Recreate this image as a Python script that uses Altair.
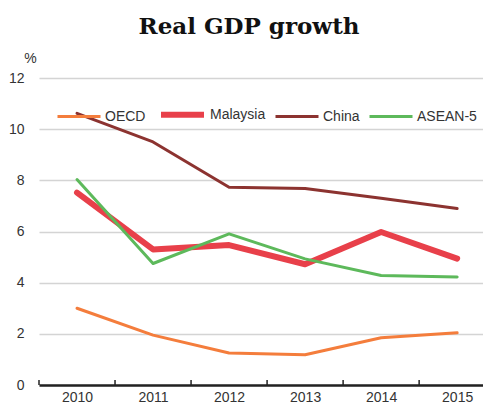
import altair as alt
import pandas as pd

years = [2010, 2011, 2012, 2013, 2014, 2015]
series = ["OECD", "Malaysia", "China", "ASEAN-5"]
oecd = [3.0, 1.95, 1.25, 1.18, 1.85, 2.04]
malaysia = [7.52, 5.3, 5.47, 4.72, 5.98, 4.94]
china = [10.62, 9.5, 7.73, 7.68, 7.3, 6.9]
asean5 = [8.03, 4.75, 5.91, 4.93, 4.28, 4.22]
colors = ["#F47D3C", "#E8404A", "#8C3330", "#5DB95B"]
widths = [3, 6, 3, 3]
tick_pos = [2009.5, 2010.5, 2011.5, 2012.5, 2013.5, 2014.5]

rows = []
for name, vals in zip(series, [oecd, malaysia, china, asean5]):
    for y, v in zip(years, vals):
        rows.append({"year": y, "series": name, "value": v, "order": series.index(name)})
df = pd.DataFrame(rows)
ticks = pd.DataFrame({"x": tick_pos, "y0": [0] * len(tick_pos), "y1": [0.2] * len(tick_pos)})

xscale = alt.Scale(domain=[2009.5, 2015.34], nice=False, zero=False)
yscale = alt.Scale(domain=[0, 12], nice=False)

legend_cfg = dict(title=None, orient="none", legendX=17, legendY=12,
                  direction="horizontal", symbolType="stroke", gridAlign="each",
                  symbolSize=1849, labelFontSize=14, labelColor="#333333",
                  labelFont="Liberation Sans", columnPadding=3, labelOffset=3)

lines = alt.Chart(df).mark_line(strokeCap="round", strokeJoin="round").encode(
    x=alt.X("year:Q", scale=xscale,
            axis=alt.Axis(values=years, format="d", title=None, grid=False, ticks=False,
                          domainColor="#222222", domainWidth=2.5, labelPadding=5,
                          labelFontSize=14, labelColor="#333333", labelFont="Liberation Sans")),
    y=alt.Y("value:Q", scale=yscale,
            axis=alt.Axis(values=[0, 2, 4, 6, 8, 10, 12], title="%", titleAngle=0,
                          titleAlign="center", titleBaseline="middle", titleX=-9, titleY=-20,
                          titleFontWeight="normal",
                          titleFontSize=14, titleColor="#333333", titleFont="Liberation Sans",
                          domain=False, ticks=False, labelPadding=15, labelFontSize=14,
                          labelColor="#333333", labelFont="Liberation Sans",
                          gridColor="#d4d4d4", gridWidth=1.5)),
    color=alt.Color("series:N", scale=alt.Scale(domain=series, range=colors),
                    legend=alt.Legend(**legend_cfg)),
    strokeWidth=alt.StrokeWidth("series:N",
                                scale=alt.Scale(type="ordinal", domain=series, range=widths),
                                legend=alt.Legend(**legend_cfg)),
    detail="series:N",
    order="order:Q",
)

tick_marks = alt.Chart(ticks).mark_rule(color="#222222", strokeWidth=1.5).encode(
    x=alt.X("x:Q", scale=xscale),
    y=alt.Y("y0:Q", scale=yscale),
    y2="y1:Q",
)

chart = alt.layer(lines, tick_marks).properties(
    width=444, height=307,
    padding={"left": 0, "top": 8, "right": 0, "bottom": 0},
    title=alt.Title("Real GDP growth", font="DejaVu Serif", fontSize=23, fontWeight="bold",
                    color="#111111", anchor="middle", offset=12, dx=-12),
).configure_view(stroke=None)

chart.save("out.html", embed_options={"renderer": "svg", "actions": False})
